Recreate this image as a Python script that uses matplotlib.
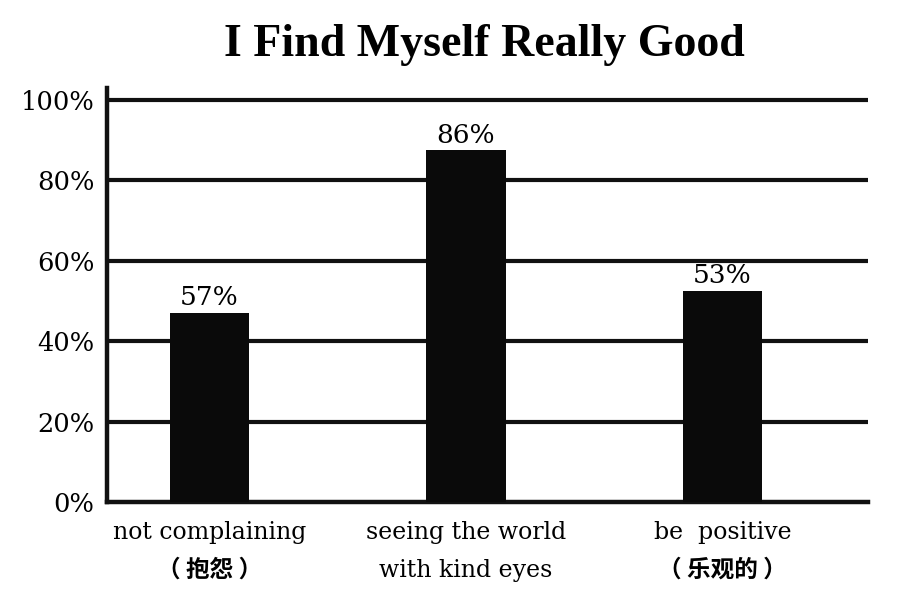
import matplotlib
matplotlib.use("Agg")
import matplotlib.pyplot as plt
from matplotlib.transforms import blended_transform_factory

cat_line1 = ["not complaining", "seeing the world", "be  positive"]
cat_line2 = ["（ 抱怨 ）", "with kind eyes", "（ 乐观的 ）"]
line2_is_cjk = [True, False, True]
bar_heights = [47, 87.5, 52.5]
value_labels = ["57%", "86%", "53%"]
yticks = [0, 20, 40, 60, 80, 100]
ytick_labels = ["0%", "20%", "40%", "60%", "80%", "100%"]
title = "I Find Myself Really Good"

fig = plt.figure(figsize=(9.05, 6.0), dpi=100)
ax = fig.add_axes([0.118, 0.1633, 0.841, 0.69])
x = list(range(len(cat_line1)))
ax.bar(x, bar_heights, width=0.31, color="#0a0a0a", zorder=3)
for yv in yticks[1:]:
    ax.axhline(yv, color="#111111", lw=3.0, zorder=1)
ax.set_xlim(-0.40, 2.567)
ax.set_ylim(0, 103)
for s in ["top", "right"]:
    ax.spines[s].set_visible(False)
ax.spines["left"].set_linewidth(3.2)
ax.spines["bottom"].set_linewidth(3.2)
ax.spines["left"].set_color("#111111")
ax.spines["bottom"].set_color("#111111")
ax.set_yticks(yticks)
ax.set_yticklabels(ytick_labels, family=["DejaVu Serif"], fontsize=18.5)
ax.tick_params(axis="y", length=0, pad=9)
ax.set_xticks(x)
ax.set_xticklabels([])
ax.tick_params(axis="x", length=0)
tr = blended_transform_factory(ax.transData, fig.transFigure)
for xi, l1, l2, cjk in zip(x, cat_line1, cat_line2, line2_is_cjk):
    ax.text(xi, 0.113, l1, transform=tr, ha="center", va="center",
            family="DejaVu Serif", fontsize=17)
    if cjk:
        ax.text(xi, 0.050, l2, transform=tr, ha="center", va="center",
                family="Noto Sans CJK SC", fontweight="bold", fontsize=17)
    else:
        ax.text(xi, 0.050, l2, transform=tr, ha="center", va="center",
                family="DejaVu Serif", fontsize=17)
for xi, h, lab in zip(x, bar_heights, value_labels):
    ax.annotate(lab, (xi, h), xytext=(0, 2), textcoords="offset points",
                ha="center", va="bottom", family="DejaVu Serif", fontsize=19)
fig.text(0.535, 0.925, title, ha="center", va="center", family="Liberation Serif",
         fontweight="bold", fontsize=33)
fig.savefig("out.png", dpi=100)
